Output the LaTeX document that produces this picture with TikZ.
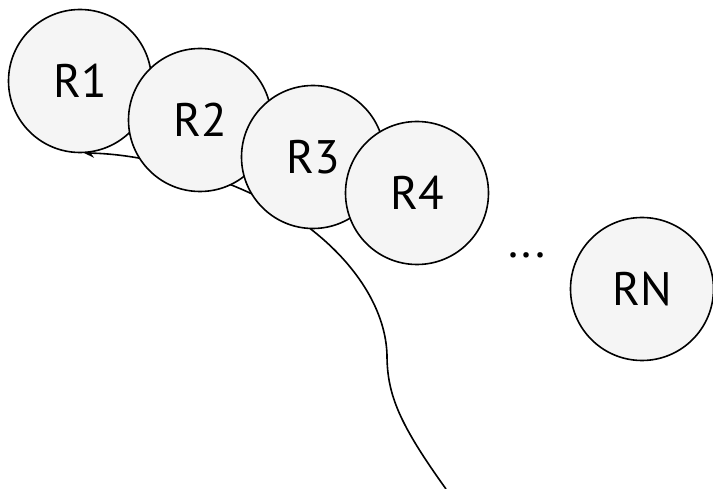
\documentclass[tikz,border=0pt]{standalone}
\usepackage{fontspec}
\setmainfont{PT Sans}
\usetikzlibrary{arrows.meta}
\definecolor{nodefill}{HTML}{F5F5F5}
\begin{document}
\begin{tikzpicture}[x=1pt,y=-1pt,
  rnode/.style={circle,draw=black,line width=1.6pt,fill=nodefill,minimum size=143pt,inner sep=0pt,font=\fontsize{47}{50}\selectfont},
  link/.style={line width=1.6pt,-{Stealth[length=10pt,width=9pt]}}]
\useasboundingbox (0,0) rectangle (713,489);
\coordinate (start) at (446,489);
\coordinate (tip) at (84,153);
\draw[link] (start) .. controls (400,425) and (387,395) .. (387,355)
  .. controls (385,290) and (325,226) .. (250,193)
  .. controls (200,170) and (140,154) .. (tip);
\node[rnode] (r1) at (80,81) {R1};
\node[rnode] (r2) at (200,120) {R2};
\node[rnode] (r3) at (313,157) {R3};
\node[rnode] (r4) at (417,193) {R4};
\node[rnode] (rn) at (642,289) {RN};
\node[font=\fontsize{47}{50}\selectfont,anchor=base,inner sep=0pt] (dots) at (527,258) {...};
\end{tikzpicture}
\end{document}
